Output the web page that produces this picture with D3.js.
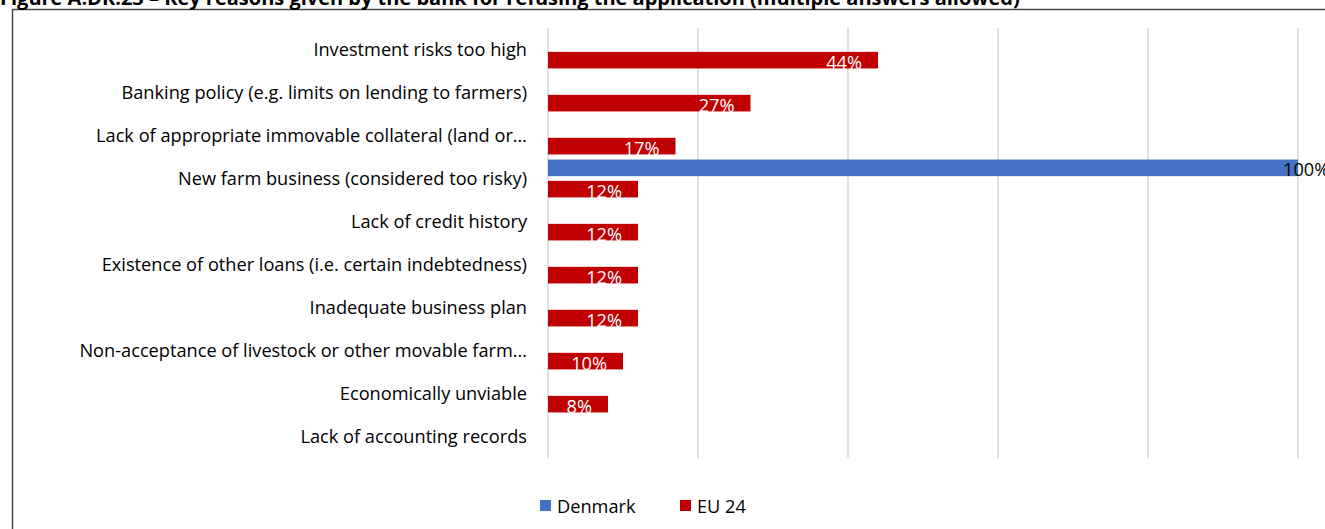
<!DOCTYPE html>
<html><head><meta charset="utf-8">
<script src="https://cdn.jsdelivr.net/npm/d3@7"></script>
<style>
html,body{margin:0;padding:0;background:#fff;overflow:hidden}
svg{display:block}
text{font-family:"Open Sans","Noto Sans",sans-serif}
</style></head>
<body><svg id="c" width="1325" height="529"></svg>
<script>
const titleText = "Figure A.DK.23 – Key reasons given by the bank for refusing the application (multiple answers allowed)";
const categories = [
  "Investment risks too high",
  "Banking policy (e.g. limits on lending to farmers)",
  "Lack of appropriate immovable collateral (land or…",
  "New farm business (considered too risky)",
  "Lack of credit history",
  "Existence of other loans (i.e. certain indebtedness)",
  "Inadequate business plan",
  "Non-acceptance of livestock or other movable farm…",
  "Economically unviable",
  "Lack of accounting records"
];
const seriesNames = ["Denmark", "EU 24"];
const denmark = [null, null, null, 100, null, null, null, null, null, null];
const eu24 = [44, 27, 17, 12, 12, 12, 12, 10, 8, null];
const xTicks = [0, 20, 40, 60, 80, 100];
const colors = ["#4472C4", "#C00000"];

const svg = d3.select("#c");
const W = 1325, H = 529;

// frame
svg.append("rect").attr("x", 12.5).attr("y", 9.5).attr("width", W).attr("height", H)
  .attr("fill", "none").attr("stroke", "#404040").attr("stroke-width", 1.4);

// title (clipped at top, as in the reference)
svg.append("text").attr("x", 0).attr("y", 5).attr("font-weight", "bold")
  .attr("font-size", 20).attr("fill", "#000").text(titleText);

const x = d3.scaleLinear().domain([0, 100]).range([548, 1298]);
const y = d3.scaleBand().domain(categories).range([28, 458]);
const yInner = d3.scaleBand().domain(seriesNames).range([0, y.bandwidth()])
  .paddingInner(0.22).paddingOuter(0.12);

// gridlines
svg.append("g").selectAll("line").data(xTicks).join("line")
  .attr("x1", d => x(d)).attr("x2", d => x(d))
  .attr("y1", 28).attr("y2", 458)
  .attr("stroke", "#d9d9d9").attr("stroke-width", 1.6);

// category labels
svg.append("g").selectAll("text").data(categories).join("text")
  .attr("x", 527).attr("y", d => y(d) + y.bandwidth() / 2 - 0.5)
  .attr("text-anchor", "end").attr("dominant-baseline", "central")
  .attr("font-size", 18.2).attr("fill", "#000").text(d => d);

const series = [denmark, eu24];
series.forEach((vals, si) => {
  const name = seriesNames[si];
  const data = vals.map((v, i) => ({ c: categories[i], v })).filter(d => d.v != null);
  const g = svg.append("g");
  g.selectAll("rect").data(data).join("rect")
    .attr("x", x(0)).attr("y", d => y(d.c) + yInner(name))
    .attr("width", d => x(d.v) - x(0)).attr("height", yInner.bandwidth())
    .attr("fill", colors[si]);
  g.selectAll("text").data(data).join("text")
    .attr("x", d => si === 0 ? x(d.v) - 15 : x(d.v) - 16)
    .attr("y", d => y(d.c) + yInner(name) + yInner.bandwidth() / 2 + 1.5)
    .attr("text-anchor", si === 0 ? "start" : "end")
    .attr("dominant-baseline", "central")
    .attr("font-size", 18.2).attr("fill", si === 0 ? "#000" : "#fff")
    .text(d => d.v + "%");
});

// legend
const legX = [540, 680];
const leg = svg.append("g").selectAll("g").data(seriesNames).join("g")
  .attr("transform", (d, i) => `translate(${legX[i]},500)`);
leg.append("rect").attr("width", 11).attr("height", 11).attr("fill", (d, i) => colors[i]);
leg.append("text").attr("x", 17).attr("y", 6).attr("dominant-baseline", "central")
  .attr("font-size", 18.2).attr("fill", "#000").text(d => d);
</script></body></html>
